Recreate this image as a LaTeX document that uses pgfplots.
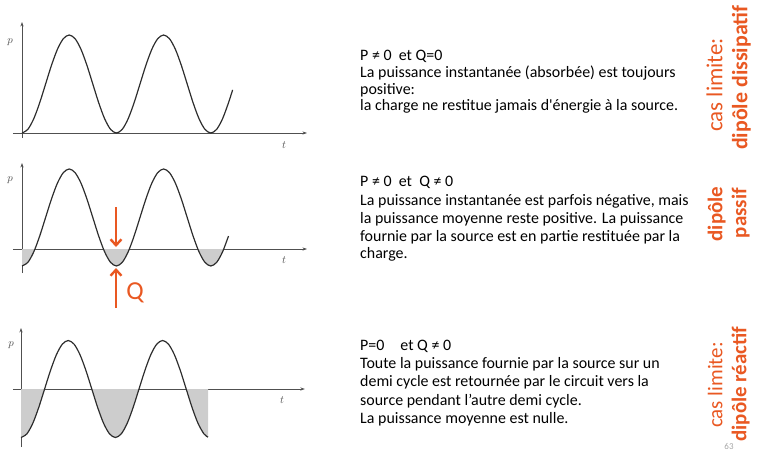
\documentclass[border=0pt]{standalone}
\usepackage{fontspec}
\setmainfont{Carlito}
\usepackage{pgfplots}
\pgfplotsset{compat=1.18}
\usepackage{pgfplotstable}
\usetikzlibrary{arrows.meta}
\definecolor{org}{RGB}{233,88,34}
\definecolor{axc}{RGB}{80,80,80}
\definecolor{crv}{RGB}{45,45,45}
\definecolor{shade}{RGB}{205,205,205}

% curve 1 : p >= 0  (k = phase in 1/16 of a period)
\pgfplotstableread{
k p
0 0
1 0.0761
2 0.2929
3 0.6173
4 1
5 1.3827
6 1.7071
7 1.9239
8 2
9 1.9239
10 1.7071
11 1.3827
12 1
13 0.6173
14 0.2929
15 0.0761
16 0
17 0.0761
18 0.2929
19 0.6173
20 1
21 1.3827
22 1.7071
23 1.9239
24 2
25 1.9239
26 1.7071
27 1.3827
28 1
29 0.6173
30 0.2929
31 0.0761
32 0
33 0.0761
34 0.2929
35 0.6173
35.7 0.88
}\curveA

% curve 2 : p partly negative
\pgfplotstableread{
k p
0 -0.35
1 -0.2739
2 -0.0571
3 0.2673
4 0.65
5 1.0327
6 1.3571
7 1.5739
8 1.65
9 1.5739
10 1.3571
11 1.0327
12 0.65
13 0.2673
14 -0.0571
15 -0.2739
16 -0.35
17 -0.2739
18 -0.0571
19 0.2673
20 0.65
21 1.0327
22 1.3571
23 1.5739
24 1.65
25 1.5739
26 1.3571
27 1.0327
28 0.65
29 0.2673
30 -0.0571
31 -0.2739
32 -0.35
33 -0.2739
34 -0.0571
35 0.2673
}\curveB

% curve 3 : mean zero
\pgfplotstableread{
k p
0 -1
1 -0.9239
2 -0.7071
3 -0.3827
4 0
5 0.3827
6 0.7071
7 0.9239
8 1
9 0.9239
10 0.7071
11 0.3827
12 0
13 -0.3827
14 -0.7071
15 -0.9239
16 -1
17 -0.9239
18 -0.7071
19 -0.3827
20 0
21 0.3827
22 0.7071
23 0.9239
24 1
25 0.9239
26 0.7071
27 0.3827
28 0
29 -0.3827
30 -0.7071
31 -0.9239
31.7 -0.9931
}\curveC

\begin{document}
\begin{tikzpicture}
\path[use as bounding box] (0,0) rectangle (759bp,-450bp);
\pgfplotsset{sk/.style={anchor=origin, axis lines=middle, ticks=none, x=5.9bp, clip=false,
  axis line style={draw=axc, line width=0.7pt, -{Stealth[length=4.5pt,width=3.2pt]}}}}
\tikzset{crvst/.style={crv, line width=1.2pt, smooth}}
\tikzset{fl/.style={draw=none, fill=shade, smooth}}

% ---------- plot 1
\begin{axis}[sk, at={(22bp,-133bp)}, y=49bp, xmin=-1.53, xmax=48.3, ymin=-0.1, ymax=2.265]
\addplot[crvst] table[x=k,y=p] {\curveA};
\end{axis}

% ---------- plot 2
\begin{axis}[sk, at={(22bp,-249bp)}, y=48.5bp, xmin=-1.53, xmax=48.3, ymin=-0.495, ymax=1.773]
\begin{scope}
\clip (axis cs:0,0) rectangle (axis cs:40,-3);
\addplot[fl] coordinates {(-2.2,0) (-2,-0.0571) (-1,-0.2739) (0,-0.35) (1,-0.2739) (2,-0.0571) (2.2,0)};
\addplot[fl] coordinates {(13.8,0) (14,-0.0571) (15,-0.2739) (16,-0.35) (17,-0.2739) (18,-0.0571) (18.2,0)};
\addplot[fl] coordinates {(29.8,0) (30,-0.0571) (31,-0.2739) (32,-0.35) (33,-0.2739) (34,-0.0571) (34.2,0)};
\end{scope}
\addplot[crvst] table[x=k,y=p] {\curveB};
\end{axis}

% ---------- plot 3
\begin{axis}[sk, at={(21bp,-389bp)}, y=48.5bp, xmin=-1.36, xmax=48.1, ymin=-1.196, ymax=1.258]
\begin{scope}
\clip (axis cs:0,0) rectangle (axis cs:31.7,-3);
\addplot[fl] coordinates {(-4,0) (-3,-0.3827) (-2,-0.7071) (-1,-0.9239) (0,-1) (1,-0.9239) (2,-0.7071) (3,-0.3827) (4,0)};
\addplot[fl] coordinates {(12,0) (13,-0.3827) (14,-0.7071) (15,-0.9239) (16,-1) (17,-0.9239) (18,-0.7071) (19,-0.3827) (20,0)};
\addplot[fl] coordinates {(28,0) (29,-0.3827) (30,-0.7071) (31,-0.9239) (32,-1) (33,-0.9239) (34,-0.7071) (35,-0.3827) (36,0)};
\end{scope}
\addplot[crvst] table[x=k,y=p] {\curveC};
\end{axis}

% axis letters
\tikzset{lbl/.style={font=\fontsize{11}{11}\selectfont, text=axc, inner sep=0}}
\node[lbl] at (10bp,-42bp) {$p$};
\node[lbl] at (284bp,-145bp) {$t$};
\node[lbl] at (10bp,-180bp) {$p$};
\node[lbl] at (284bp,-260bp) {$t$};
\node[lbl] at (11bp,-345bp) {$p$};
\node[lbl] at (282bp,-400bp) {$t$};

% orange arrows and Q
\draw[org, line width=2.4pt, -{Straight Barb[length=6pt,width=11pt]}] (116bp,-207bp) -- (116bp,-247bp);
\draw[org, line width=2.4pt, -{Straight Barb[length=6pt,width=11pt]}] (116bp,-308bp) -- (116bp,-268bp);
\node[org, font=\fontsize{26}{26}\selectfont, inner sep=0] at (135bp,-293bp) {Q};

% text blocks
\tikzset{tx/.style={anchor=base west, inner sep=0, font=\fontsize{16}{18}\selectfont}}
\node[tx] at (360bp,-60.7bp) {P ≠ 0\ \ et Q=0};
\node[tx] at (360bp,-77.3bp) {La puissance instantanée (absorbée) est toujours};
\node[tx] at (360bp,-94bp) {positive:};
\node[tx] at (360bp,-110.7bp) {la charge ne restitue jamais d\textquotesingle énergie à la source.};

\node[tx] at (360bp,-186bp) {P ≠ 0\ \ et\ \ Q ≠ 0};
\node[tx] at (360bp,-205bp) {La puissance instantanée est parfois négative, mais};
\node[tx] at (360bp,-223.3bp) {la puissance moyenne reste positive. La puissance};
\node[tx] at (360bp,-241bp) {fournie par la source est en partie restituée par la};
\node[tx] at (360bp,-258.3bp) {charge.};

\node[tx] at (360bp,-350bp) {P=0\quad et Q ≠ 0};
\node[tx] at (360bp,-368.3bp) {Toute la puissance fournie par la source sur un};
\node[tx] at (360bp,-386.7bp) {demi cycle est retournée par le circuit vers la};
\node[tx] at (360bp,-405bp) {source pendant l’autre demi cycle.};
\node[tx] at (360bp,-423.3bp) {La puissance moyenne est nulle.};

% rotated orange labels
\tikzset{ol/.style={org, rotate=90, inner sep=0, font=\fontsize{21}{21}\selectfont}}
\node[ol, anchor=mid west, font=\fontsize{23}{23}\selectfont] at (720bp,-132bp) {cas limite:};
\node[ol, anchor=mid west, font=\fontsize{22}{22}\selectfont] at (745bp,-150bp) {\bfseries dipôle dissipatif};
\node[ol, anchor=mid] at (720bp,-214bp) {\bfseries dipôle};
\node[ol, anchor=mid] at (744bp,-213bp) {\bfseries passif};
\node[ol, anchor=mid] at (720bp,-385bp) {cas limite:};
\node[ol, anchor=mid] at (744bp,-384bp) {\bfseries dipôle réactif};

\node[anchor=south, inner sep=0.5pt, text=gray!70, font=\fontsize{9}{9}\selectfont] at (729bp,-450bp) {63};
\end{tikzpicture}
\end{document}
